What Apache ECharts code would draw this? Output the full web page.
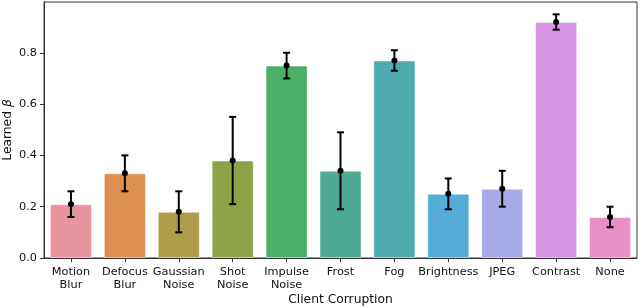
<!DOCTYPE html>
<html><head><meta charset="utf-8">
<script src="https://cdn.jsdelivr.net/npm/echarts@6/dist/echarts.min.js"></script>
<style>html,body{margin:0;padding:0;background:#fff}#c{width:640px;height:308px}</style>
</head><body><div id="c"></div>
<script>
const categories = ['Motion\nBlur','Defocus\nBlur','Gaussian\nNoise','Shot\nNoise','Impulse\nNoise','Frost','Fog','Brightness','JPEG','Contrast','None'];
const values = [0.21,0.33,0.18,0.38,0.75,0.34,0.77,0.25,0.27,0.92,0.16];
const lower  = [0.16,0.26,0.10,0.21,0.70,0.19,0.73,0.19,0.20,0.89,0.12];
const upper  = [0.26,0.40,0.26,0.55,0.80,0.49,0.81,0.31,0.34,0.95,0.20];
const colors = ['#e8949f','#dc8f4e','#b09d4b','#8ea146','#4baf66','#4eaa95','#4faab0','#55acd6','#a8aae8','#d694e4','#e88fc8'];
const yTicks = [0,0.2,0.4,0.6,0.8];

const chart = echarts.init(document.getElementById('c'), null, {renderer:'canvas'});
const font = 'DejaVu Sans';
chart.setOption({
  animation:false,
  grid:{left:44,right:3,top:2,bottom:50,containLabel:false,outerBoundsMode:'none',show:true,borderColor:'#333',borderWidth:1,backgroundColor:'transparent'},
  xAxis:{
    type:'category', data:categories,
    axisLine:{show:true,lineStyle:{color:'#333',width:1}},
    axisTick:{show:true,alignWithLabel:true,length:4,lineStyle:{color:'#333'}},
    axisLabel:{interval:0,color:'#111',fontFamily:font,fontSize:11.3,lineHeight:13,margin:8},
    name:'Client Corruption', nameLocation:'middle', nameGap:36, nameMoveOverlap:false,
    nameTextStyle:{color:'#111',fontFamily:font,fontSize:12.3}
  },
  yAxis:{
    type:'value', min:0, max:0.998,
    axisLine:{show:true,lineStyle:{color:'#333',width:1}},
    axisTick:{show:true,length:4,lineStyle:{color:'#333'},customValues:yTicks},
    splitLine:{show:false},
    axisLabel:{color:'#111',fontFamily:font,fontSize:11.3,margin:7,customValues:yTicks,
      formatter:v=>v.toFixed(1)},
    name:'{a|Learned }{b|β}', nameLocation:'middle', nameGap:36, nameRotate:90, nameMoveOverlap:false,
    nameTextStyle:{align:'center',verticalAlign:'middle',
      rich:{a:{color:'#111',fontFamily:font,fontSize:12.3},b:{color:'#111',fontFamily:font,fontSize:12.3,fontStyle:'italic'}}}
  },
  series:[
    {type:'bar', data:values.map((v,i)=>({value:v,itemStyle:{color:colors[i]}})),
     barCategoryGap:'22%',
     itemStyle:{borderColor:'rgba(255,255,255,0.45)',borderWidth:1}},
    {type:'custom', z:10,
     data:values.map((v,i)=>[i,v,lower[i],upper[i]]),
     renderItem:function(params,api){
       const x=api.value(0);
       const c=api.coord([x,api.value(1)]);
       const lo=api.coord([x,api.value(2)]);
       const hi=api.coord([x,api.value(3)]);
       const s={stroke:'#000',lineWidth:2};
       return {type:'group',children:[
         {type:'line',shape:{x1:c[0],y1:lo[1],x2:c[0],y2:hi[1]},style:s},
         {type:'line',shape:{x1:c[0]-3.5,y1:lo[1],x2:c[0]+3.5,y2:lo[1]},style:s},
         {type:'line',shape:{x1:c[0]-3.5,y1:hi[1],x2:c[0]+3.5,y2:hi[1]},style:s},
         {type:'circle',shape:{cx:c[0],cy:c[1],r:3},style:{fill:'#000'}}
       ]};
     }}
  ]
});
</script></body></html>
